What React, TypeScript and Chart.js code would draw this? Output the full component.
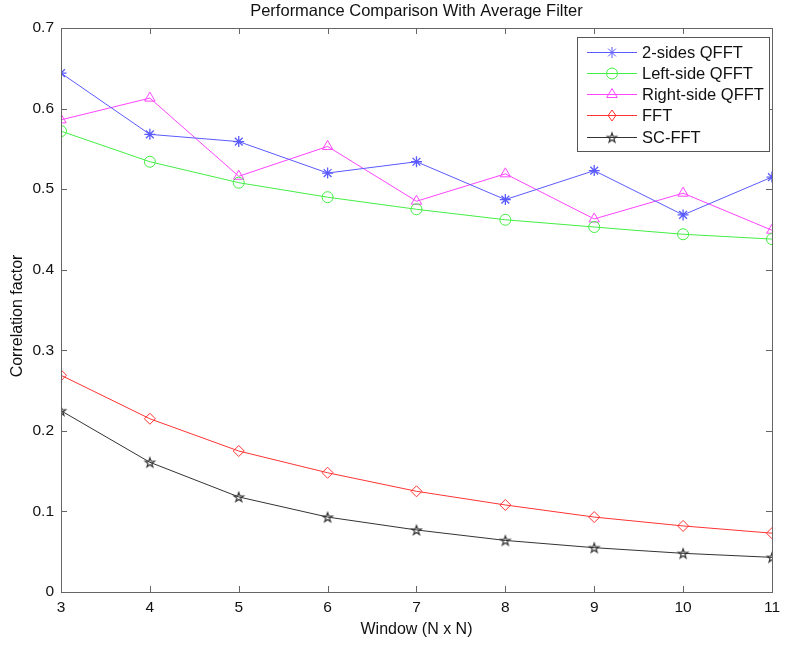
import React, { useEffect, useRef } from "react";
import { Chart, registerables } from "chart.js";

Chart.register(...registerables);

const windows = [3, 4, 5, 6, 7, 8, 9, 10, 11];
const twoSides = [0.644, 0.568, 0.559, 0.52, 0.534, 0.487, 0.523, 0.468, 0.515];
const leftSide = [0.572, 0.534, 0.508, 0.49, 0.475, 0.462, 0.453, 0.444, 0.438];
const rightSide = [0.586, 0.613, 0.516, 0.553, 0.485, 0.519, 0.463, 0.495, 0.449];
const fft = [0.269, 0.215, 0.175, 0.148, 0.125, 0.108, 0.093, 0.082, 0.073];
const scFft = [0.225, 0.161, 0.118, 0.093, 0.077, 0.064, 0.055, 0.048, 0.043];
const seriesNames = ["2-sides QFFT", "Left-side QFFT", "Right-side QFFT", "FFT", "SC-FFT"];
const yTicks = [0, 0.1, 0.2, 0.3, 0.4, 0.5, 0.6, 0.7];

const FONT = "'Liberation Sans', Arial, sans-serif";

function makePentagram(color: string, r: number): HTMLCanvasElement {
  const size = Math.ceil(r * 2 + 4);
  const c = document.createElement("canvas");
  c.width = size;
  c.height = size;
  const ctx = c.getContext("2d")!;
  const cx = size / 2, cy = size / 2 + 0.5;
  ctx.beginPath();
  for (let i = 0; i < 10; i++) {
    const ang = -Math.PI / 2 + (i * Math.PI) / 5;
    const rr = i % 2 === 0 ? r : r * 0.4;
    const px = cx + rr * Math.cos(ang), py = cy + rr * Math.sin(ang);
    if (i === 0) ctx.moveTo(px, py); else ctx.lineTo(px, py);
  }
  ctx.closePath();
  ctx.strokeStyle = color;
  ctx.lineWidth = 1.2;
  ctx.stroke();
  return c;
}

export default function App() {
  const ref = useRef<HTMLCanvasElement | null>(null);
  useEffect(() => {
    document.body.style.margin = "0";
    const canvas = ref.current!;
    const colors = ["#5a5aff", "#44ee44", "#ff44ff", "#ff3333", "#333333"];
    const star = makePentagram(colors[4], 5);
    const styles: any[] = ["star", "circle", "triangle", "rectRot", star];
    const radii = [5.5, 5.5, 6, 5.5, 5];
    const all = [twoSides, leftSide, rightSide, fft, scFft];

    const frame = {
      id: "frame",
      afterDraw(chart: any) {
        const { ctx, chartArea: a, scales } = chart;
        const xs = scales.x, ys = scales.y;
        ctx.save();
        ctx.strokeStyle = "#666666";
        ctx.lineWidth = 1;
        ctx.strokeRect(Math.round(a.left) + 0.5, Math.round(a.top) + 0.5, Math.round(a.right - a.left), Math.round(a.bottom - a.top));
        const tl = 6;
        ctx.beginPath();
        windows.forEach((w) => {
          const px = Math.round(xs.getPixelForValue(w)) + 0.5;
          ctx.moveTo(px, a.bottom); ctx.lineTo(px, a.bottom - tl);
          ctx.moveTo(px, a.top); ctx.lineTo(px, a.top + tl);
        });
        yTicks.forEach((v) => {
          const py = Math.round(ys.getPixelForValue(v)) + 0.5;
          ctx.moveTo(a.left, py); ctx.lineTo(a.left + tl, py);
          ctx.moveTo(a.right, py); ctx.lineTo(a.right - tl, py);
        });
        ctx.stroke();

        // titles
        ctx.fillStyle = "#111111";
        ctx.textAlign = "center";
        ctx.textBaseline = "middle";
        const cx = (a.left + a.right) / 2;
        ctx.font = `16.5px ${FONT}`;
        ctx.fillText("Performance Comparison With Average Filter", cx, 11);
        ctx.font = `16px ${FONT}`;
        ctx.fillText("Window (N x N)", cx, 630);
        ctx.save();
        ctx.translate(18, (a.top + a.bottom) / 2 + 6);
        ctx.rotate(-Math.PI / 2);
        ctx.fillText("Correlation factor", 0, 0);
        ctx.restore();

        // legend
        const lx = 577, ly = 37, lw = 192, lh = 114;
        ctx.fillStyle = "#ffffff";
        ctx.fillRect(lx, ly, lw, lh);
        ctx.strokeStyle = "#555555";
        ctx.strokeRect(lx + 0.5, ly + 0.5, lw, lh);
        const rowY = [52, 73, 94, 115, 137];
        ctx.font = `16.5px ${FONT}`;
        ctx.textAlign = "left";
        chart.data.datasets.forEach((ds: any, i: number) => {
          const y = rowY[i];
          ctx.strokeStyle = ds.borderColor;
          ctx.lineWidth = 1;
          ctx.beginPath();
          ctx.moveTo(587, y + 0.5); ctx.lineTo(637, y + 0.5);
          ctx.stroke();
          const opts = {
            pointStyle: ds.pointStyle,
            radius: ds.pointRadius,
            borderWidth: 1,
            rotation: 0,
          };
          ctx.strokeStyle = ds.borderColor;
          ctx.fillStyle = ds.pointBackgroundColor;
          drawPointFn(ctx, opts, 612, y + 0.5);
          ctx.fillStyle = "#111111";
          ctx.fillText(ds.label, 642, y + 1);
        });
        ctx.restore();
      },
    };

    const chart = new Chart(canvas, {
      type: "line",
      data: {
        datasets: all.map((vals, i) => ({
          label: seriesNames[i],
          data: windows.map((w, j) => ({ x: w, y: vals[j] })),
          borderColor: colors[i],
          backgroundColor: colors[i],
          pointBackgroundColor: "rgba(0,0,0,0)",
          pointBorderColor: colors[i],
          pointStyle: styles[i],
          pointRadius: radii[i],
          pointBorderWidth: i === 0 ? 1.3 : 1,
          borderWidth: 1,
          tension: 0,
        })),
      },
      options: {
        animation: false,
        responsive: false,
        events: [],
        layout: { padding: { left: 0, right: 10, top: 28, bottom: 0 } },
        plugins: { legend: { display: false }, title: { display: false }, tooltip: { enabled: false } },
        scales: {
          x: {
            type: "linear",
            min: 3,
            max: 11,
            grid: { display: false, drawTicks: false },
            border: { display: false },
            ticks: { stepSize: 1, color: "#111111", font: { family: FONT, size: 15.5 }, padding: 6, maxRotation: 0 },
            afterFit: (s: any) => { s.height = 54; },
          },
          y: {
            type: "linear",
            min: 0,
            max: 0.7,
            grid: { display: false, drawTicks: false },
            border: { display: false },
            ticks: {
              stepSize: 0.1,
              color: "#111111",
              font: { family: FONT, size: 15.5 },
              padding: 7,
              callback: (v: any) => String(Math.round(Number(v) * 10) / 10),
            },
            afterFit: (s: any) => { s.width = 61; },
          },
        },
      },
      plugins: [frame],
    });
    return () => chart.destroy();
  }, []);
  return <canvas ref={ref} width={786} height={646} style={{ display: "block" }} />;
}

function drawPointFn(ctx: CanvasRenderingContext2D, opts: any, x: number, y: number) {
  const h: any = (Chart as any).helpers;
  if (h && h.drawPoint) {
    h.drawPoint(ctx, opts, x, y);
    return;
  }
  const style = opts.pointStyle;
  const r = opts.radius;
  if (style instanceof HTMLCanvasElement) {
    ctx.drawImage(style, x - style.width / 2, y - style.height / 2);
    return;
  }
  ctx.beginPath();
  if (style === "circle") {
    ctx.arc(x, y, r, 0, Math.PI * 2);
  } else if (style === "triangle") {
    ctx.moveTo(x, y - r);
    ctx.lineTo(x + r * 0.87, y + r * 0.5);
    ctx.lineTo(x - r * 0.87, y + r * 0.5);
    ctx.closePath();
  } else if (style === "rectRot") {
    ctx.moveTo(x, y - r);
    ctx.lineTo(x + r * 0.7, y);
    ctx.lineTo(x, y + r);
    ctx.lineTo(x - r * 0.7, y);
    ctx.closePath();
  } else if (style === "star") {
    for (let k = 0; k < 4; k++) {
      const a = (k * Math.PI) / 4;
      ctx.moveTo(x - r * Math.cos(a), y - r * Math.sin(a));
      ctx.lineTo(x + r * Math.cos(a), y + r * Math.sin(a));
    }
  }
  ctx.stroke();
}
